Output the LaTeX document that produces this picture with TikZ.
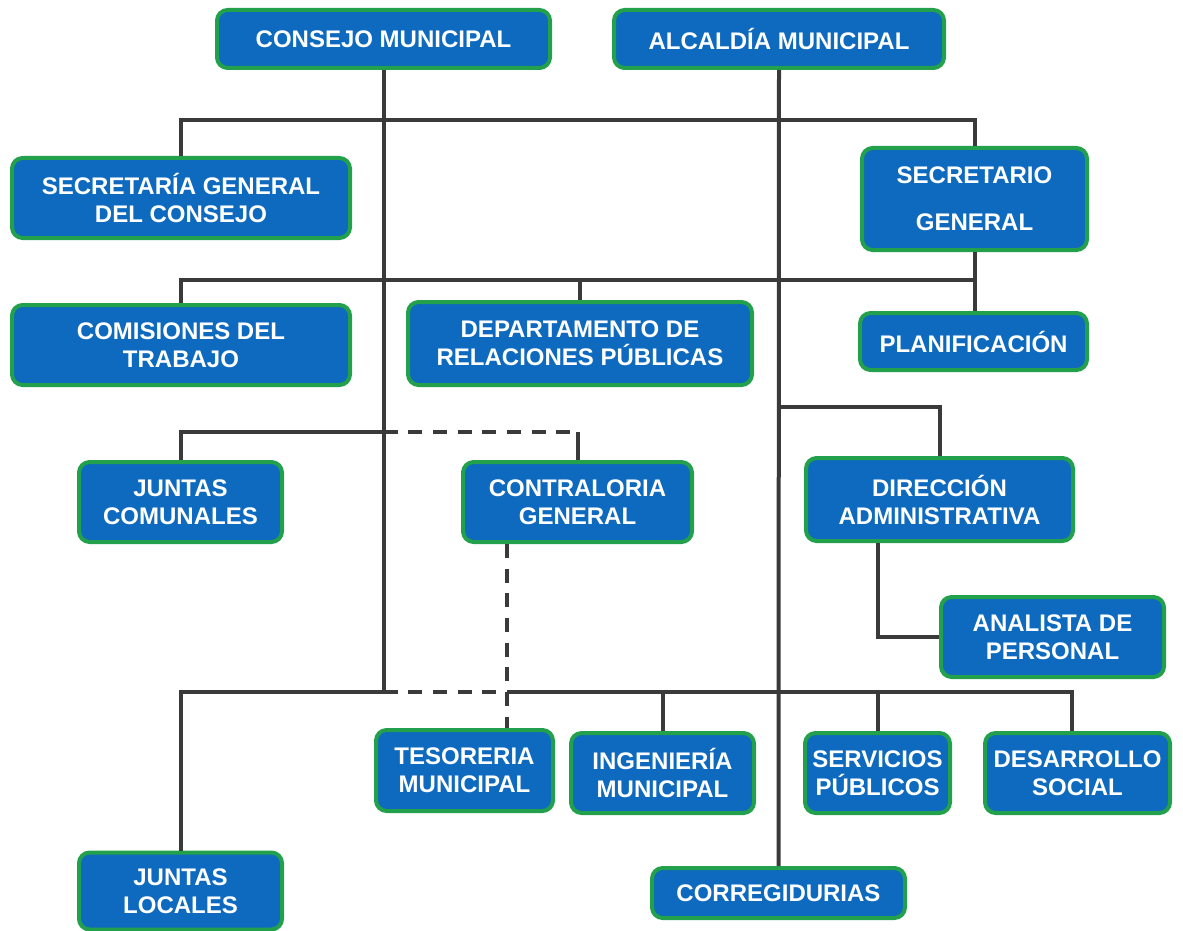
\documentclass[tikz,border=0pt]{standalone}
\usepackage{fontspec}
\setmainfont{Liberation Sans}
\usepackage{tikz}
\usetikzlibrary{calc}
\definecolor{unitblue}{RGB}{14,106,190}
\definecolor{unitgreen}{RGB}{34,160,76}
\definecolor{linkgray}{RGB}{58,58,58}

\begin{document}
\begin{tikzpicture}[x=0.75pt,y=-0.75pt]
      \tikzset{unit/.style 2 args={draw=unitgreen,
          line width=3pt,
          fill=unitblue,
          rounded corners=8pt,
          text=white,
          font=\bfseries\fontsize{18}{21}\selectfont,
          align=center,
          inner sep=0pt,
          minimum width=#1*0.75pt,
          minimum height=#2*0.75pt},
        link/.style={draw=linkgray,line width=3pt},
        dashlink/.style={link,dash pattern=on 10.5pt off 8pt}
      }
      \useasboundingbox (0,0) rectangle (1183,931);
      \node [unit={333}{58}] (consejo) at (383.5,39) {CONSEJO MUNICIPAL};
      \node [unit={330}{58}] (alcaldia) at (779,39) {ALCALDÍA MUNICIPAL};
      \node [unit={338}{80}] (secconsejo) at (181,198) {SECRETARÍA GENERAL\\DEL CONSEJO};
      \node [unit={225}{102}] (secgeneral) at (974.5,199) {SECRETARIO\\[14pt]GENERAL};
      \node [unit={338}{80}] (comisiones) at (181,345) {COMISIONES DEL\\TRABAJO};
      \node [unit={344}{83}] (relaciones) at (580,343.5) {DEPARTAMENTO DE\\RELACIONES PÚBLICAS};
      \node [unit={227}{57}] (planificacion) at (973.5,341.5) {PLANIFICACIÓN};
      \node [unit={203}{80}] (jcomunales) at (180.5,502) {JUNTAS\\COMUNALES};
      \node [unit={229}{80}] (contraloria) at (577.5,502) {CONTRALORIA\\GENERAL};
      \node [unit={267}{83}] (direccion) at (939.5,499.5) {DIRECCIÓN\\ADMINISTRATIVA};
      \node [unit={223}{80}] (analista) at (1052.5,637) {ANALISTA DE\\PERSONAL};
      \node [unit={177}{81}] (tesoreria) at (464.5,770.5) {TESORERIA\\MUNICIPAL};
      \node [unit={183}{80}] (ingenieria) at (662.5,773) {INGENIERÍA\\MUNICIPAL};
      \node [unit={145}{80}] (servicios) at (877.5,773) {SERVICIOS\\PÚBLICOS};
      \node [unit={185}{80}] (desarrollo) at (1077.5,773) {DESARROLLO\\SOCIAL};
      \node [unit={203}{77}] (jlocales) at (180.5,891) {JUNTAS\\LOCALES};
      \node [unit={253}{50}] (corregidurias) at (778.5,893) {CORREGIDURIAS};

      % buses
      \coordinate (busA) at (0,120);
      \coordinate (busB) at (0,280);
      \coordinate (busC) at (0,432);
      \coordinate (busD) at (0,407);
      \coordinate (busE) at (0,692);
      \coordinate (tes) at (507,0);
      \coordinate (des) at (1072,0);

      \draw [link] (consejo.south) -- (consejo.south |- busE);
      \draw [link] (alcaldia.south) -- (corregidurias.north);
      \draw [link] (secconsejo.north) -- (secconsejo.north |- busA)
      -- (secgeneral.north |- busA) -- (secgeneral.north);
      \draw [link] (comisiones.north) -- (comisiones.north |- busB)
      -- (secgeneral.south |- busB);
      \draw [link] (relaciones.north) -- (relaciones.north |- busB);
      \draw [link] (secgeneral.south) -- (secgeneral.south |- planificacion.north);
      \draw [link] (jcomunales.north) -- (jcomunales.north |- busC)
      -- (consejo.south |- busC);
      \draw [dashlink] (consejo.south |- busC) -- (contraloria.north |- busC);
      \draw [link] (contraloria.north |- busC) -- (contraloria.north);
      \draw [link] (alcaldia.south |- busD) -- (direccion.north |- busD)
      -- (direccion.north);
      \draw [link] (direccion.south -| servicios.north) |- (analista.west);
      \draw [dashlink] (contraloria.south -| tes) -- (tesoreria.north -| tes);
      \draw [link] (jlocales.north) -- (jlocales.north |- busE)
      -- (consejo.south |- busE);
      \draw [dashlink] (consejo.south |- busE) -- (tes |- busE);
      \draw [link] (tes |- busE) -- (des |- busE) -- (desarrollo.north -| des);
      \draw [link] (ingenieria.north |- busE) -- (ingenieria.north);
      \draw [link] (servicios.north |- busE) -- (servicios.north);
    \end{tikzpicture}
\end{document}
